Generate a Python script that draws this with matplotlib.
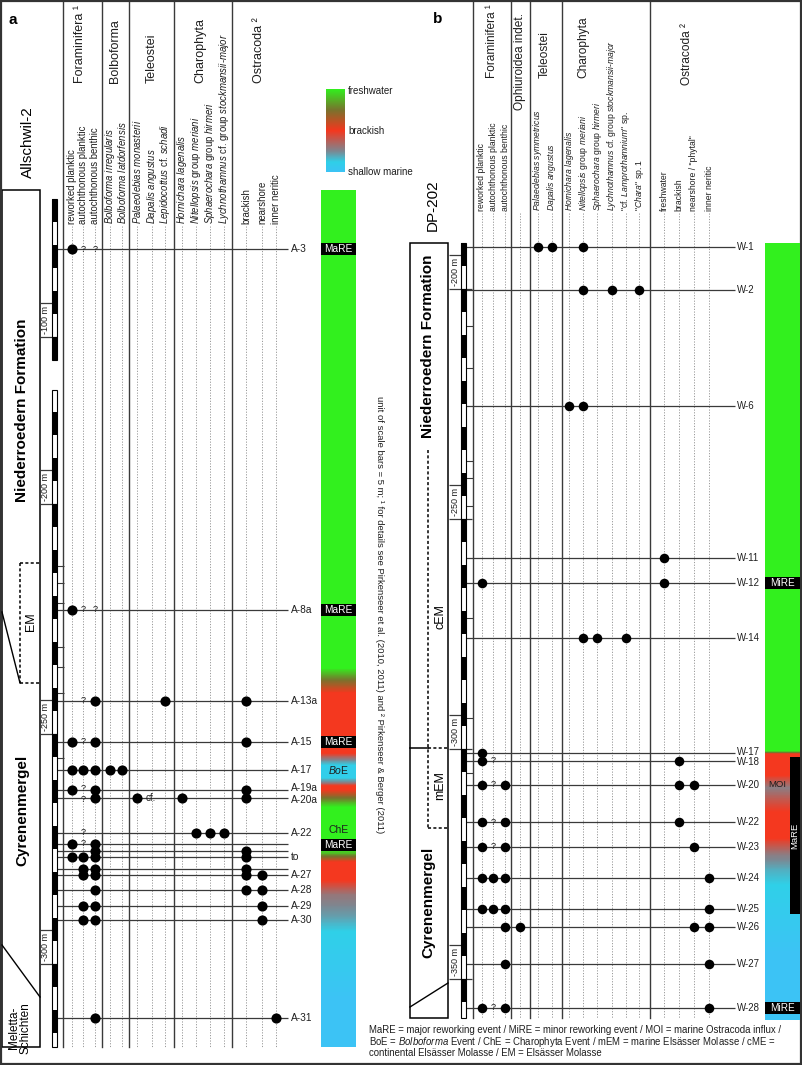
import numpy as np
import matplotlib
matplotlib.use('Agg')
import matplotlib.pyplot as plt
from matplotlib.colors import LinearSegmentedColormap
from matplotlib.patches import Rectangle
from matplotlib.transforms import offset_copy

plt.rcParams['font.family'] = ['Liberation Sans', 'DejaVu Sans']
plt.rcParams['mathtext.fontset'] = 'custom'
plt.rcParams['mathtext.rm'] = 'Liberation Sans'
plt.rcParams['mathtext.it'] = 'Liberation Sans:italic'
plt.rcParams['mathtext.bf'] = 'Liberation Sans:bold'

# ======================= DATA: panel a (Allschwil-2) =======================
a_groups = ['Foraminifera \u00b9', 'Bolboforma', 'Teleostei', 'Charophyta', 'Ostracoda \u00b2']
a_columns = ['reworked planktic', 'autochthonous planktic', 'autochthonous benthic',
             r'$\mathit{Bolboforma}$ $\mathit{irregularis}$',
             r'$\mathit{Bolboforma}$ $\mathit{latdorfensis}$',
             r'$\mathit{Palaeolebias}$ $\mathit{monasterii}$',
             r'$\mathit{Dapalis}$ $\mathit{angustus}$',
             r'$\mathit{Lepidocottus}$ cf. $\mathit{schadi}$',
             r'$\mathit{Hornichara}$ $\mathit{lagenalis}$',
             r'$\mathit{Nitellopsis}$ group $\mathit{meriani}$',
             r'$\mathit{Sphaerochara}$ group $\mathit{hirmeri}$',
             r'$\mathit{Lychnothamnus}$ cf. group $\mathit{stockmansii}$-$\mathit{major}$',
             'brackish', 'nearshore', 'inner neritic']
a_samples = ['A-3', 'A-8a', 'A-13a', 'A-15', 'A-17', 'A-19a', 'A-20a', 'A-22', '', '',
             'to', '', 'A-27', 'A-28', 'A-29', 'A-30', 'A-31']
a_depths = [-80.9, -223.0, -242.8, -251.7, -257.8, -262.2, -263.9, -271.5, -273.9, -275.4,
            -276.7, -279.3, -280.7, -283.9, -287.4, -290.4, -311.7]
a_found = [[0], [0], [2, 7, 12], [0, 2, 12], [0, 1, 2, 3, 4], [0, 2, 12], [2, 5, 8, 12],
           [9, 10, 11], [0, 2], [2, 12], [0, 1, 2, 12], [1, 2, 12], [1, 2, 12, 13],
           [2, 12, 13], [1, 2, 13], [1, 2, 13], [2, 14]]
a_query = [[1, 2], [1, 2], [1], [1], [], [1], [1], [1], [1], [], [], [], [], [], [], [], []]
a_cf = [(6, 5)]
a_events = [('MaRE', -80.9, True), ('MaRE', -223.0, True), ('MaRE', -251.7, True),
            (r'$\mathit{Bo}$E', -257.8, False), ('ChE', -270.9, False), ('MaRE', -274.1, True)]
a_env_depth = [-68.0, -235.65, -238.26, -241.09, -254.13, -255.65, -256.96, -259.35, -260.43,
               -261.30, -262.17, -263.91, -265.87, -274.78, -275.87, -277.83, -281.74, -285.0,
               -290.0, -293.04, -308.0, -318.0]
a_env_value = [0, 0, 0.25, 0.5, 0.5, 0.75, 0.9, 0.9, 0.75, 0.5, 0.5, 0.25, 0, 0, 0.1, 0.5,
               0.5, 0.7, 0.8, 0.88, 1.0, 1.0]
a_barren = [-213.5, -217.2, -221.5, -231.1, -235.4, -241.1, -255.2]
a_scale_labels = [-100, -200, -250, -300]

# ======================= DATA: panel b (DP-202) =======================
b_groups = ['Foraminifera \u00b9', 'Ophiuroidea indet.', 'Teleostei', 'Charophyta', 'Ostracoda \u00b2']
b_columns = ['reworked planktic', 'autochthonous planktic', 'autochthonous benthic', '',
             r'$\mathit{Palaeolebias}$ $\mathit{symmetricus}$',
             r'$\mathit{Dapalis}$ $\mathit{angustus}$',
             r'$\mathit{Hornichara}$ $\mathit{lagenalis}$',
             r'$\mathit{Nitellopsis}$ group $\mathit{meriani}$',
             r'$\mathit{Sphaerochara}$ group $\mathit{hirmeri}$',
             r'$\mathit{Lychnothamnus}$ cf. group $\mathit{stockmansii}$-$\mathit{major}$',
             r'"cf. $\mathit{Lamprothamnium}$" sp.',
             r'"$\mathit{Chara}$" sp. 1',
             'freshwater', 'brackish', 'nearshore / "phytal"', 'inner neritic']
b_samples = ['W-1', 'W-2', 'W-6', 'W-11', 'W-12', 'W-14', 'W-17', 'W-18', 'W-20', 'W-22',
             'W-23', 'W-24', 'W-25', 'W-26', 'W-27', 'W-28']
b_depths = [-190.9, -200.2, -225.4, -258.5, -263.9, -275.9, -300.9, -302.6, -307.8, -315.9,
            -321.3, -328.0, -334.8, -338.7, -346.7, -356.3]
b_found = [[4, 5, 7], [7, 9, 11], [6, 7], [12], [0, 12], [7, 8, 10], [0], [0, 13],
           [0, 2, 13, 14], [0, 2, 13], [0, 2, 14], [0, 1, 2, 15], [0, 1, 2, 15],
           [2, 3, 14, 15], [2, 15], [0, 2, 15]]
b_query = [[], [], [], [], [], [], [], [1], [1], [1], [1], [], [], [], [], [1]]
b_events = [('MiRE', -263.9), ('MiRE', -356.3)]
b_mare_span = (-301.7, -335.9)
b_moi_depth = -307.8
b_env_depth = [-190.0, -300.43, -301.09, -305.65, -308.48, -311.09, -313.70, -319.35,
               -323.04, -326.30, -329.57, -345.0, -358.9]
b_env_value = [0, 0, 0.5, 0.5, 0.72, 0.6, 0.5, 0.5, 0.72, 0.82, 0.88, 1.0, 1.0]
b_barren = [-208.0, -217.2, -237.4, -241.1, -247.2, -271.5, -293.3, -305.2]
b_scale_labels = [-200, -250, -300, -350]

env_labels = ['freshwater', 'brackish', 'shallow marine']

# ======================= STYLE / LAYOUT =======================
W, H = 802, 1065
LINE = '#3a3a3a'
DOT = '#999999'
TXT = '#1e1e1e'
CMAP = LinearSegmentedColormap.from_list('salinity', [
    (0.0, '#32f01e'), (0.25, '#78732d'), (0.5, '#f5371e'), (0.75, '#7d8791'),
    (0.88, '#2fd0e8'), (1.0, '#3cc3f5')])

a_col_x = [72, 83, 95, 110, 122, 137, 152, 165, 182, 196, 210, 224, 246, 262, 276]
a_group_x = [80, 115, 152, 200, 259]
a_sep_x = [63, 102, 129, 174, 232]
b_col_x = [482, 493, 505, 520, 538, 552, 569, 583, 597, 612, 626, 639, 664, 679, 694, 709]
b_group_x = [492, 520, 545, 583, 687]
b_group_bottom = [78, 110, 78, 78, 85]
b_sep_x = [473, 511, 530, 562, 650]
# small vertical label nudges (pixels, + = down) to keep crowded labels legible
label_nudge = {'A-19a': -2.0, 'A-20a': 2.0, 'W-17': -1.5, 'W-18': 1.5}
query_nudge = {'A-19a': -1.3, 'A-20a': 1.3}

fig = plt.figure(figsize=(W / 100, H / 100), dpi=100)
bg = fig.add_axes([0, 0, 1, 1])
bg.axis('off')


def depth_axes(depth_knots, pixel_knots):
    D = np.asarray(depth_knots, float)
    P = -np.asarray(pixel_knots, float)
    o = np.argsort(D)
    D, P = D[o], P[o]

    def fwd(d):
        return np.interp(d, D, P)

    def inv(p):
        return np.interp(p, P, D)

    ax = fig.add_axes([0, 0, 1, 1], facecolor='none')
    ax.set_yscale('function', functions=(fwd, inv))
    ax.set_xlim(0, W)
    ax.set_ylim(inv(-H), inv(0))
    ax.axis('off')
    return ax


PXM = 4.6  # pixels per metre of scale
# panel a: broken scale (gap between -105 m and -175.2 m)
axa = depth_axes([0, -105, -175.2, -400],
                 [337 - 100 * PXM, 337 + 5 * PXM, 504 - 24.8 * PXM, 504 + 200 * PXM])
axb = depth_axes([0, -400], [289 - 200 * PXM, 289 + 200 * PXM])


def shifted(ax, px):
    return offset_copy(ax.transData, fig=fig, x=0, y=-px * 0.72, units='points')


def draw_samples(ax, col_x, samples, depths, found, query, x0, x1, lab_x, lab_fs, ms):
    ax.hlines(depths, x0, x1, color=LINE, lw=0.9, zorder=2)
    for s, d, f, q in zip(samples, depths, found, query):
        ax.plot([col_x[c] for c in f], [d] * len(f), 'o', color='k', ms=ms, mec='none', zorder=4)
        for c in q:
            ax.text(col_x[c], d, '?', ha='center', va='center', fontsize=6.6, color=TXT,
                    zorder=5, transform=shifted(ax, query_nudge.get(s, 0)))
        if s:
            ax.text(lab_x, d, s, ha='left', va='center', fontsize=lab_fs, color=TXT,
                    transform=shifted(ax, label_nudge.get(s, 0)))


def env_bar(ax, x0, x1, dep, val):
    dep = np.asarray(dep, float)[::-1]
    val = np.asarray(val, float)[::-1]
    dd = np.linspace(dep[0], dep[-1], 2500)
    v = np.interp(dd, dep, val)
    vc = 0.5 * (v[1:] + v[:-1])
    ax.pcolormesh([x0, x1], dd, vc[:, None], cmap=CMAP, vmin=0, vmax=1,
                  shading='flat', rasterized=True, zorder=1)


def scale_bar(ax, x0, x1, pieces, barren, labels, lab_x0, line_end):
    for top, bot in pieces:
        ax.add_patch(Rectangle((x0, bot), x1 - x0, top - bot, fill=False, ec='k', lw=0.8, zorder=3))
        for k in np.arange(0, 400, 10):
            b_top, b_bot = -k, -k - 5
            t = min(b_top, top)
            b = max(b_bot, bot)
            if t > b:
                ax.add_patch(Rectangle((x0, b), x1 - x0, t - b, color='k', lw=0, zorder=3))
    ax.hlines(barren, x1, x1 + 6.5, color=LINE, lw=0.8)
    for lv in labels:
        ax.hlines(lv, lab_x0, line_end, color=LINE, lw=0.9)
        ax.hlines(lv + 7.5, lab_x0, x0, color=LINE, lw=0.9)
        ax.text((lab_x0 + x0) / 2, lv + 3.75, f'{lv} m', rotation=90, ha='center',
                va='center', fontsize=6.5, color=TXT)


# ---------------- panel a ----------------
for x in a_sep_x:
    bg.plot([x, x], [2, 1047], color=LINE, lw=1.0)
for x in a_col_x:
    bg.plot([x, x], [226, 1047], color=DOT, lw=0.7, ls=(0, (1.2, 1.6)))
for x, lab in zip(a_col_x, a_columns):
    bg.text(x, 224, lab, rotation=90, ha='center', va='bottom', fontsize=6.9, color=TXT)
for x, g in zip(a_group_x, a_groups):
    bg.text(x, 83, g, rotation=90, ha='center', va='bottom', fontsize=9, color=TXT)
bg.text(12.5, 20, 'a', fontsize=11, fontweight='bold', ha='center', va='center')
bg.text(28, 142, 'Allschwil-2', rotation=90, fontsize=11, ha='center', va='center')

draw_samples(axa, a_col_x, a_samples, a_depths, a_found, a_query, 57, 288, 291, 7.3, 7.3)
for si, c in a_cf:
    axa.text(a_col_x[c] + 9, a_depths[si], 'cf.', ha='left', va='center', fontsize=7, color=TXT)
env_bar(axa, 321, 356, a_env_depth, a_env_value)
for lab, d, boxed in a_events:
    if boxed:
        axa.add_patch(Rectangle((321, d - 1.25), 35, 2.5, color='k', lw=0, zorder=3))
        axa.text(338.5, d, lab, color='white', ha='center', va='center', fontsize=7.3, zorder=4)
    else:
        axa.text(338.5, d, lab, color=TXT, ha='center', va='center', fontsize=7.5, zorder=4)
scale_bar(axa, 52, 57, [(-70, -105), (-175.2, -318)], a_barren, a_scale_labels, 40, 57)

# lithology a
bg.add_patch(Rectangle((2, 190), 38, 857, fill=False, ec='k', lw=1.1))
bg.plot([20, 40], [563, 563], color='k', lw=1.1, ls=(0, (2, 1.5)))
bg.plot([20, 20], [563, 683], color='k', lw=1.1, ls=(0, (2, 1.5)))
bg.plot([20, 40], [683, 683], color='k', lw=1.1, ls=(0, (2, 1.5)))
bg.plot([2, 20], [612, 683], color='k', lw=1.0)
bg.plot([2, 40], [945, 997], color='k', lw=1.0)
bg.text(22, 410, 'Niederroedern Formation', rotation=90, fontsize=11, fontweight='bold',
        ha='center', va='center')
bg.text(22, 810, 'Cyrenenmergel', rotation=90, fontsize=11, fontweight='bold',
        ha='center', va='center')
bg.text(31, 622, 'EM', rotation=90, fontsize=9, ha='center', va='center')
bg.text(20, 1028, 'Meletta-\nSchichten', rotation=90, fontsize=8.5, ha='center', va='center',
        linespacing=0.95)

# legend colour bar
grad = np.linspace(0, 1, 256)[:, None]
bg.imshow(grad, extent=(326, 345, 172, 89), origin='upper', cmap=CMAP, aspect='auto', vmin=0, vmax=1)
for y, lab in zip([91, 131, 172], env_labels):
    bg.text(348, y, lab, fontsize=7, ha='left', va='center', color=TXT)
bg.text(379, 615, 'unit of scale bars = 5 m; \u00b9 for details see Pirkenseer et al. (2010, 2011) '
        'and \u00b2 Pirkenseer & Berger (2011)', rotation=270, fontsize=6.8, ha='center',
        va='center', color=TXT)

# ---------------- panel b ----------------
for x in b_sep_x:
    bg.plot([x, x], [2, 1018], color=LINE, lw=1.0)
for x in b_col_x:
    bg.plot([x, x], [213, 1018], color=DOT, lw=0.7, ls=(0, (1.2, 1.6)))
for x, lab in zip(b_col_x, b_columns):
    if lab:
        bg.text(x, 211, lab, rotation=90, ha='center', va='bottom', fontsize=6.2, color=TXT)
for x, g, yb in zip(b_group_x, b_groups, b_group_bottom):
    bg.text(x, yb, g, rotation=90, ha='center', va='bottom', fontsize=8.6, color=TXT)
bg.text(438, 19, 'b', fontsize=11, fontweight='bold', ha='center', va='center')
bg.text(433, 205, 'DP-202', rotation=90, fontsize=11, ha='center', va='center')

draw_samples(axb, b_col_x, b_samples, b_depths, b_found, b_query, 466, 735, 737, 6.9, 6.9)
env_bar(axb, 765, 800, b_env_depth, b_env_value)
for lab, d in b_events:
    axb.add_patch(Rectangle((765, d - 1.25), 35, 2.5, color='k', lw=0, zorder=3))
    axb.text(782.5, d, lab, color='white', ha='center', va='center', fontsize=7.2, zorder=4)
axb.add_patch(Rectangle((790, b_mare_span[1]), 10, b_mare_span[0] - b_mare_span[1],
                        color='k', lw=0, zorder=3))
axb.text(795, sum(b_mare_span) / 2, 'MaRE', rotation=90, color='white', ha='center',
         va='center', fontsize=6.8, zorder=4)
axb.text(777, b_moi_depth, 'MOI', color=TXT, ha='center', va='center', fontsize=6.8, zorder=4)
scale_bar(axb, 461, 466, [(-190, -358.5)], b_barren, b_scale_labels, 449, 472)

# lithology b
bg.add_patch(Rectangle((410, 243), 38, 775, fill=False, ec='k', lw=1.1))
bg.plot([410, 428], [748, 748], color='k', lw=1.1)
bg.plot([428, 428], [450, 828], color='k', lw=1.1, ls=(0, (2, 1.5)))
bg.plot([428, 448], [748, 748], color='k', lw=1.1, ls=(0, (2, 1.5)))
bg.plot([428, 448], [828, 828], color='k', lw=1.1, ls=(0, (2, 1.5)))
bg.plot([410, 448], [1007, 983], color='k', lw=1.0)
bg.text(428, 346, 'Niederroedern Formation', rotation=90, fontsize=11, fontweight='bold',
        ha='center', va='center')
bg.text(428, 902, 'Cyrenenmergel', rotation=90, fontsize=11, fontweight='bold',
        ha='center', va='center')
bg.text(440, 617, 'cEM', rotation=90, fontsize=9, ha='center', va='center')
bg.text(440, 786, 'mEM', rotation=90, fontsize=9, ha='center', va='center')

# bottom legend
legend_lines = ['MaRE = major reworking event / MiRE = minor reworking event / MOI = marine Ostracoda influx /',
                r'BoE = $\mathit{Bolboforma}$ Event / ChE = Charophyta Event / mEM = marine Elsässer Molasse / cME =',
                'continental Elsässer Molasse / EM = Elsässer Molasse']
for y, t in zip([1030, 1042, 1053], legend_lines):
    bg.text(369, y, t, fontsize=6.95, ha='left', va='center', color=TXT)

# outer frame
bg.add_patch(Rectangle((1, 1), W - 2.5, H - 2.5, fill=False, ec='#333333', lw=1.6))
bg.set_xlim(0, W)
bg.set_ylim(H, 0)

fig.savefig('out.png', dpi=100)
